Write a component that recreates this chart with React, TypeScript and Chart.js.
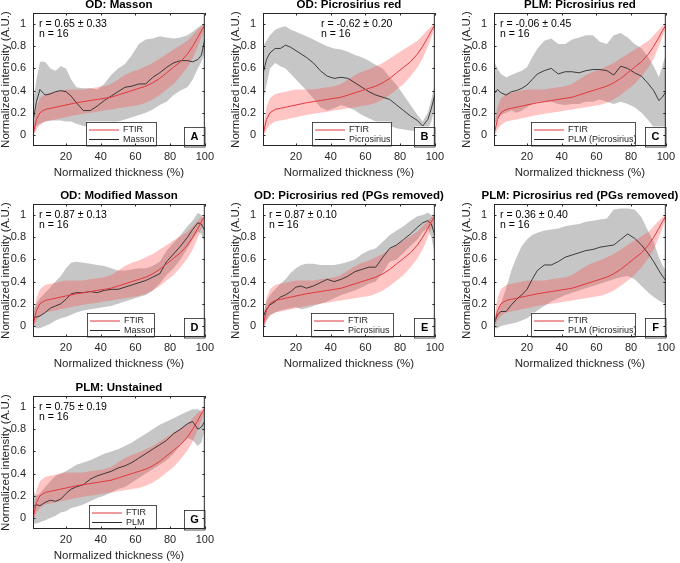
import React, { useEffect, useRef } from "react";
import { Chart, registerables } from "chart.js";
Chart.register(...registerables);

// ---------- data ----------
const X = [1, 3, 5, 8, 11, 14, 17, 20, 23, 26, 30, 34, 38, 42, 46, 50, 54, 58, 62, 66, 70, 74, 78, 82, 86, 90, 93, 96, 98, 100];
const X_TICKS = [20, 40, 60, 80, 100];
const Y_TICKS = [0, 0.2, 0.4, 0.6, 0.8, 1];

const FTIR_MEAN = [0.0, 0.14, 0.2, 0.23, 0.24, 0.25, 0.26, 0.27, 0.28, 0.29, 0.3, 0.31, 0.32, 0.33, 0.34, 0.36, 0.38, 0.4, 0.42, 0.44, 0.47, 0.51, 0.56, 0.61, 0.66, 0.73, 0.8, 0.88, 0.94, 0.99];
const FTIR_LO = [-0.02, 0.05, 0.09, 0.12, 0.13, 0.14, 0.15, 0.16, 0.17, 0.18, 0.19, 0.2, 0.21, 0.22, 0.23, 0.24, 0.25, 0.26, 0.27, 0.29, 0.32, 0.36, 0.41, 0.46, 0.53, 0.61, 0.69, 0.8, 0.88, 0.97];
const FTIR_HI = [0.05, 0.25, 0.33, 0.37, 0.38, 0.39, 0.4, 0.41, 0.41, 0.41, 0.41, 0.42, 0.43, 0.44, 0.46, 0.5, 0.54, 0.57, 0.59, 0.62, 0.65, 0.69, 0.73, 0.77, 0.81, 0.85, 0.9, 0.95, 0.98, 1.0];

const MASSON_MEAN = [0.12, 0.3, 0.41, 0.36, 0.37, 0.39, 0.4, 0.39, 0.35, 0.29, 0.22, 0.22, 0.26, 0.31, 0.35, 0.39, 0.43, 0.44, 0.46, 0.46, 0.52, 0.56, 0.61, 0.65, 0.67, 0.67, 0.66, 0.68, 0.72, 0.86];
const MASSON_HI = [0.3, 0.5, 0.66, 0.66, 0.6, 0.58, 0.62, 0.6, 0.5, 0.43, 0.42, 0.42, 0.41, 0.46, 0.54, 0.6, 0.64, 0.72, 0.82, 0.86, 0.87, 0.89, 0.88, 0.87, 0.88, 0.9, 0.93, 0.97, 0.99, 1.01];
const MASSON_LO = [0.0, 0.08, 0.1, 0.12, 0.13, 0.13, 0.13, 0.12, 0.12, 0.1, 0.08, 0.07, 0.07, 0.08, 0.1, 0.12, 0.14, 0.16, 0.18, 0.2, 0.23, 0.27, 0.3, 0.36, 0.4, 0.43, 0.5, 0.6, 0.66, 0.74];

const PSR_MEAN = [0.55, 0.68, 0.74, 0.78, 0.78, 0.81, 0.79, 0.76, 0.73, 0.7, 0.65, 0.58, 0.53, 0.51, 0.52, 0.51, 0.47, 0.43, 0.39, 0.36, 0.34, 0.32, 0.27, 0.22, 0.17, 0.13, 0.08, 0.14, 0.24, 0.36];
const PSR_HI = [0.8, 0.85, 0.9, 0.95, 0.97, 0.98, 0.95, 0.93, 0.91, 0.89, 0.86, 0.83, 0.8, 0.78, 0.77, 0.75, 0.72, 0.7, 0.67, 0.63, 0.6, 0.52, 0.45, 0.36, 0.27, 0.18, 0.12, 0.2, 0.32, 0.45];
const PSR_LO = [0.3, 0.45, 0.6, 0.65, 0.62, 0.6, 0.55, 0.5, 0.45, 0.4, 0.33, 0.25, 0.22, 0.24, 0.27, 0.25, 0.22, 0.18, 0.15, 0.12, 0.1, 0.08, 0.06, 0.05, 0.04, 0.03, 0.03, 0.05, 0.12, 0.25];

const PLM_PSR_MEAN = [0.37, 0.41, 0.38, 0.36, 0.39, 0.4, 0.42, 0.45, 0.5, 0.55, 0.58, 0.6, 0.55, 0.57, 0.57, 0.56, 0.58, 0.59, 0.59, 0.58, 0.54, 0.62, 0.6, 0.56, 0.53, 0.46, 0.4, 0.31, 0.34, 0.39];
const PLM_PSR_HI = [0.67, 0.6, 0.55, 0.52, 0.54, 0.56, 0.58, 0.61, 0.7, 0.78, 0.85, 0.87, 0.82, 0.82, 0.86, 0.88, 0.9, 0.9, 0.84, 0.82, 0.9, 0.92, 0.88, 0.82, 0.78, 0.7, 0.62, 0.52, 0.62, 0.73];
const PLM_PSR_LO = [0.08, 0.15, 0.18, 0.2, 0.22, 0.2, 0.22, 0.25, 0.28, 0.3, 0.3, 0.3, 0.28, 0.27, 0.28, 0.28, 0.3, 0.3, 0.32, 0.3, 0.28, 0.3, 0.28, 0.25, 0.2, 0.13, 0.07, 0.0, -0.02, 0.04];

const MOD_MASSON_MEAN = [0.08, 0.08, 0.09, 0.12, 0.16, 0.18, 0.2, 0.24, 0.29, 0.3, 0.3, 0.31, 0.3, 0.32, 0.33, 0.33, 0.35, 0.37, 0.39, 0.41, 0.44, 0.47, 0.58, 0.65, 0.72, 0.8, 0.87, 0.93, 0.92, 0.86];
const MOD_MASSON_HI = [0.15, 0.2, 0.25, 0.3, 0.35, 0.4, 0.45, 0.52, 0.57, 0.58, 0.57, 0.56, 0.55, 0.54, 0.52, 0.5, 0.5, 0.51, 0.52, 0.52, 0.54, 0.58, 0.68, 0.75, 0.82, 0.9, 0.95, 1.02, 1.0, 0.95];
const MOD_MASSON_LO = [0.0, -0.02, -0.02, 0.0, 0.02, 0.05, 0.07, 0.08, 0.1, 0.12, 0.14, 0.15, 0.16, 0.17, 0.18, 0.2, 0.22, 0.24, 0.26, 0.28, 0.32, 0.38, 0.46, 0.52, 0.6, 0.7, 0.78, 0.85, 0.83, 0.75];

const PSR_PG_MEAN = [0.08, 0.15, 0.19, 0.22, 0.26, 0.28, 0.31, 0.35, 0.36, 0.34, 0.36, 0.39, 0.42, 0.4, 0.42, 0.45, 0.49, 0.51, 0.53, 0.53, 0.62, 0.7, 0.73, 0.78, 0.83, 0.89, 0.93, 0.95, 0.92, 0.82];
const PSR_PG_HI = [0.1, 0.22, 0.28, 0.33, 0.38, 0.42, 0.48, 0.52, 0.55, 0.56, 0.56, 0.55, 0.55, 0.55, 0.56, 0.58, 0.6, 0.65, 0.68, 0.7, 0.76, 0.82, 0.86, 0.9, 0.95, 0.99, 1.0, 1.02, 1.0, 0.98];
const PSR_PG_LO = [-0.05, 0.05, 0.1, 0.12, 0.14, 0.15, 0.16, 0.17, 0.15, 0.16, 0.18, 0.2, 0.22, 0.25, 0.28, 0.3, 0.32, 0.35, 0.38, 0.4, 0.48, 0.58, 0.6, 0.66, 0.72, 0.78, 0.85, 0.88, 0.8, 0.65];

const PLM_PG_MEAN = [0.02, 0.1, 0.13, 0.13, 0.19, 0.24, 0.28, 0.33, 0.42, 0.5, 0.55, 0.55, 0.58, 0.62, 0.64, 0.66, 0.68, 0.69, 0.71, 0.72, 0.73, 0.78, 0.83, 0.79, 0.73, 0.65, 0.58, 0.5, 0.45, 0.41];
const PLM_PG_HI = [0.05, 0.12, 0.2, 0.34, 0.5, 0.62, 0.72, 0.78, 0.82, 0.84, 0.86, 0.87, 0.88, 0.9, 0.91, 0.92, 0.94, 0.95, 0.96, 0.97, 1.05, 1.06, 1.06, 1.05, 0.98, 0.85, 0.76, 0.62, 0.55, 0.5];
const PLM_PG_LO = [-0.02, -0.02, 0.0, 0.01, 0.02, 0.03, 0.05, 0.07, 0.1, 0.14, 0.18, 0.22, 0.25, 0.28, 0.3, 0.32, 0.34, 0.36, 0.38, 0.4, 0.42, 0.44, 0.45, 0.42, 0.36, 0.3, 0.26, 0.23, 0.21, 0.2];

const PLM_MEAN = [0.1, 0.12, 0.11, 0.14, 0.16, 0.15, 0.17, 0.22, 0.26, 0.28, 0.3, 0.35, 0.38, 0.4, 0.42, 0.45, 0.47, 0.5, 0.54, 0.58, 0.62, 0.66, 0.7, 0.76, 0.8, 0.85, 0.87, 0.8, 0.82, 0.87];
const PLM_HI = [0.25, 0.2, 0.22, 0.28, 0.33, 0.38, 0.4, 0.42, 0.45, 0.48, 0.5, 0.52, 0.55, 0.58, 0.6, 0.62, 0.65, 0.68, 0.72, 0.76, 0.8, 0.84, 0.87, 0.9, 0.93, 0.96, 0.98, 0.98, 0.96, 0.95];
const PLM_LO = [-0.05, -0.05, -0.04, -0.02, 0.0, 0.02, 0.05, 0.06, 0.09, 0.1, 0.12, 0.15, 0.18, 0.2, 0.23, 0.26, 0.28, 0.32, 0.36, 0.4, 0.44, 0.48, 0.52, 0.58, 0.66, 0.72, 0.7, 0.65, 0.68, 0.8];

const TITLES = [
  "OD: Masson",
  "OD: Picrosirius red",
  "PLM: Picrosirius red",
  "OD: Modified Masson",
  "OD: Picrosirius red (PGs removed)",
  "PLM: Picrosirius red (PGs removed)",
  "PLM: Unstained",
];
const STATS = ["r = 0.65 ± 0.33", "r = -0.62 ± 0.20", "r = -0.06 ± 0.45", "r = 0.87 ± 0.13", "r = 0.87 ± 0.10", "r = 0.36 ± 0.40", "r = 0.75 ± 0.19"];
const N_TEXT = "n = 16";
const NAMES = ["Masson", "Picrosirius", "PLM (Picrosirius)", "Masson", "Picrosirius", "PLM (Picrosirius)", "PLM"];
const LETTERS = ["A", "B", "C", "D", "E", "F", "G"];
const FTIR_LABEL = "FTIR";
const X_TITLE = "Normalized thickness (%)";
const Y_TITLE = "Normalized intensity (A.U.)";

// ---------- layout ----------
const FONT = "'Liberation Sans', Arial, Helvetica, sans-serif";
const TXT = "#262626";
const PW = 173, PH = 133;
const PAD_L = 33, PAD_T = 16, PAD_R = 12, PAD_B = 36;
const CW = PAD_L + PW + PAD_R, CH = PAD_T + PH + PAD_B;

type PanelCfg = {
  left: number; top: number; idx: number; rx: number; legendX: number; legendW: number;
  mean: number[]; lo: number[]; hi: number[];
};

const PANELS: PanelCfg[] = [
  { left: 33, top: 13, idx: 0, rx: 6, legendX: 53, legendW: 70, mean: MASSON_MEAN, lo: MASSON_LO, hi: MASSON_HI },
  { left: 263, top: 13, idx: 1, rx: 58, legendX: 49, legendW: 79, mean: PSR_MEAN, lo: PSR_LO, hi: PSR_HI },
  { left: 494, top: 13, idx: 2, rx: 6, legendX: 37, legendW: 104, mean: PLM_PSR_MEAN, lo: PLM_PSR_LO, hi: PLM_PSR_HI },
  { left: 33, top: 204, idx: 3, rx: 6, legendX: 54, legendW: 67, mean: MOD_MASSON_MEAN, lo: MOD_MASSON_LO, hi: MOD_MASSON_HI },
  { left: 263, top: 204, idx: 4, rx: 6, legendX: 48, legendW: 82, mean: PSR_PG_MEAN, lo: PSR_PG_LO, hi: PSR_PG_HI },
  { left: 494, top: 204, idx: 5, rx: 6, legendX: 37, legendW: 104, mean: PLM_PG_MEAN, lo: PLM_PG_LO, hi: PLM_PG_HI },
  { left: 33, top: 396, idx: 6, rx: 6, legendX: 56, legendW: 67, mean: PLM_MEAN, lo: PLM_LO, hi: PLM_HI },
];

const RED = "#e0393e";
const BLACK = "#2b2b2b";
const PINK_FILL = "rgba(255,70,70,0.32)";
const GRAY_FILL = "rgba(128,128,128,0.45)";

const pts = (ys: number[]) => X.map((x, i) => ({ x, y: ys[i] }));

function makeDecor(cfg: PanelCfg) {
  return {
    id: "decor" + cfg.idx,
    afterDraw(chart: any) {
      const ctx = chart.ctx as CanvasRenderingContext2D;
      const a = chart.chartArea;
      const xs = chart.scales.x, ys = chart.scales.y;
      ctx.save();
      // legend
      const lb = a.bottom, lt = a.bottom - 24.5;
      const lx = a.left + cfg.legendX;
      ctx.fillStyle = "#fff";
      ctx.fillRect(lx, lt, cfg.legendW, lb - lt);
      ctx.strokeStyle = TXT;
      ctx.lineWidth = 0.8;
      ctx.strokeRect(Math.round(lx) + 0.5, Math.round(lt) + 0.5, cfg.legendW, lb - Math.round(lt) - 0.5);
      const rows = [lb - 16, lb - 6.5];
      const cols = [RED, BLACK];
      const labels = [FTIR_LABEL, NAMES[cfg.idx]];
      ctx.font = `9px ${FONT}`;
      ctx.textBaseline = "middle";
      ctx.textAlign = "left";
      rows.forEach((ry, i) => {
        ctx.strokeStyle = cols[i];
        ctx.lineWidth = 1;
        ctx.beginPath();
        ctx.moveTo(lx + 3, ry);
        ctx.lineTo(lx + 33, ry);
        ctx.stroke();
        ctx.fillStyle = TXT;
        ctx.fillText(labels[i], lx + 37, ry);
      });
      // letter box
      const bw = 20.5, bh = 19.5;
      const bx = a.right - bw, by = a.bottom - bh;
      ctx.fillStyle = "#fff";
      ctx.fillRect(bx, by, bw, bh);
      ctx.strokeStyle = TXT;
      ctx.lineWidth = 0.8;
      ctx.strokeRect(Math.round(bx) + 0.5, Math.round(by) + 0.5, bw, bh);
      ctx.fillStyle = "#000";
      ctx.font = `bold 11px ${FONT}`;
      ctx.textAlign = "center";
      ctx.fillText(LETTERS[cfg.idx], bx + bw / 2, by + bh / 2 + 0.5);
      // stats
      ctx.font = `10.5px ${FONT}`;
      ctx.textAlign = "left";
      ctx.fillStyle = "#000";
      ctx.fillText(STATS[cfg.idx], a.left + cfg.rx, a.top + 11);
      ctx.fillText(N_TEXT, a.left + cfg.rx, a.top + 21.5);
      // axes box
      ctx.strokeStyle = TXT;
      ctx.lineWidth = 1;
      ctx.strokeRect(a.left + 0.5, a.top + 0.5, a.right - a.left - 1, a.bottom - a.top - 1);
      // inward ticks
      ctx.beginPath();
      X_TICKS.forEach((v) => {
        const px = Math.round(xs.getPixelForValue(v)) + 0.5;
        ctx.moveTo(px, a.bottom);
        ctx.lineTo(px, a.bottom - 2.5);
        ctx.moveTo(px, a.top);
        ctx.lineTo(px, a.top + 2.5);
      });
      Y_TICKS.forEach((v) => {
        const py = Math.round(ys.getPixelForValue(v)) + 0.5;
        ctx.moveTo(a.left, py);
        ctx.lineTo(a.left + 2.5, py);
        ctx.moveTo(a.right, py);
        ctx.lineTo(a.right - 2.5, py);
      });
      ctx.stroke();
      // title
      ctx.font = `bold 11.5px ${FONT}`;
      ctx.textAlign = "center";
      ctx.textBaseline = "middle";
      ctx.fillStyle = "#000";
      ctx.fillText(TITLES[cfg.idx], (a.left + a.right) / 2, a.top - 8);
      ctx.restore();
    },
  };
}

function Panel({ cfg }: { cfg: PanelCfg }) {
  const ref = useRef<HTMLCanvasElement>(null);
  useEffect(() => {
    const canvas = ref.current!;
    const chart = new Chart(canvas, {
      type: "line",
      data: {
        datasets: [
          { label: FTIR_LABEL, data: pts(FTIR_MEAN), borderColor: RED, borderWidth: 1, pointRadius: 0, fill: false, order: 1, tension: 0 },
          { label: NAMES[cfg.idx], data: pts(cfg.mean), borderColor: BLACK, borderWidth: 0.9, pointRadius: 0, fill: false, order: 2, tension: 0 },
          { label: "ftir-hi", data: pts(FTIR_HI), borderWidth: 0, borderColor: "transparent", pointRadius: 0, backgroundColor: PINK_FILL, fill: "+1", order: 3 },
          { label: "ftir-lo", data: pts(FTIR_LO), borderWidth: 0, borderColor: "transparent", pointRadius: 0, fill: false, order: 3 },
          { label: "other-hi", data: pts(cfg.hi), borderWidth: 0, borderColor: "transparent", pointRadius: 0, backgroundColor: GRAY_FILL, fill: "+1", order: 4 },
          { label: "other-lo", data: pts(cfg.lo), borderWidth: 0, borderColor: "transparent", pointRadius: 0, fill: false, order: 4 },
        ] as any,
      },
      options: {
        animation: false,
        responsive: false,
        devicePixelRatio: 1,
        layout: { padding: { left: 0, top: PAD_T, right: PAD_R, bottom: 0 } },
        plugins: { legend: { display: false }, tooltip: { enabled: false }, title: { display: false } },
        scales: {
          x: {
            type: "linear",
            min: 1,
            max: 100,
            afterBuildTicks: (s: any) => { s.ticks = X_TICKS.map((v) => ({ value: v })); },
            afterFit: (s: any) => { s.height = PAD_B; },
            grid: { display: false, drawTicks: false, tickLength: 0 },
            border: { display: false },
            ticks: { padding: 4, color: TXT, font: { family: FONT, size: 11 }, maxRotation: 0, autoSkip: false },
            title: { display: true, text: X_TITLE, color: TXT, font: { family: FONT, size: 11.5, lineHeight: 1.2 }, padding: { top: 0, bottom: 2 } },
          },
          y: {
            type: "linear",
            min: -0.1,
            max: 1.1,
            afterBuildTicks: (s: any) => { s.ticks = Y_TICKS.map((v) => ({ value: v })); },
            afterFit: (s: any) => { s.width = PAD_L; },
            grid: { display: false, drawTicks: false, tickLength: 0 },
            border: { display: false },
            ticks: { padding: 7, color: TXT, font: { family: FONT, size: 11 }, callback: (v: any) => String(Math.round(Number(v) * 10) / 10) },
            title: { display: true, text: Y_TITLE, color: TXT, font: { family: FONT, size: 11.5, lineHeight: 1 }, padding: { top: 0, bottom: 0 } },
          },
        },
      } as any,
      plugins: [makeDecor(cfg)],
    });
    return () => chart.destroy();
  }, [cfg]);
  return (
    <canvas
      ref={ref}
      width={CW}
      height={CH}
      style={{ position: "absolute", left: cfg.left - PAD_L, top: cfg.top - PAD_T, width: CW, height: CH }}
    />
  );
}

export default function App() {
  return (
    <div style={{ position: "absolute", left: 0, top: 0, width: 680, height: 563, background: "#fff", overflow: "hidden" }}>
      {PANELS.map((p) => (
        <Panel key={p.idx} cfg={p} />
      ))}
    </div>
  );
}
